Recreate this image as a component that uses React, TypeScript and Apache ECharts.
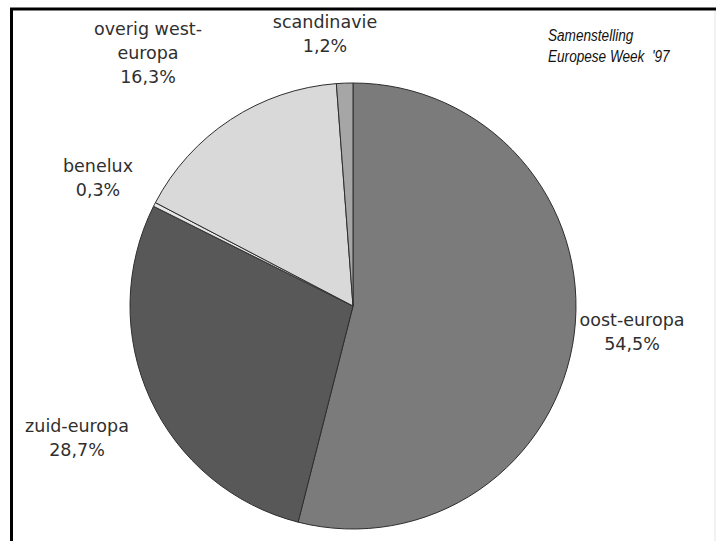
import React, { useEffect, useRef } from "react";
import * as echarts from "echarts";

const categories = ["oost-europa", "zuid-europa", "benelux", "overig west-europa", "scandinavie"];
const labelTexts = ["oost-europa", "zuid-europa", "benelux", "overig west-\neuropa", "scandinavie"];
const values = [54.5, 28.7, 0.3, 16.3, 1.2];
const sliceColors = ["#7b7b7b", "#585858", "#e6e6e6", "#d9d9d9", "#a6a6a6"];
const titleLines = ["Samenstelling", "Europese Week  '97"];

// label anchor positions (layout only)
const labelAnchors: [number, number][] = [
  [632, 332],
  [77, 438],
  [98, 178],
  [148, 53],
  [325, 34],
];

const fmt = (v: number) => v.toFixed(1).replace(".", ",") + "%";

export default function App() {
  const ref = useRef<HTMLDivElement>(null);
  useEffect(() => {
    if (!ref.current) return;
    const chart = echarts.init(ref.current, undefined, { renderer: "svg" });
    chart.setOption({
      animation: false,
      backgroundColor: "#ffffff",
      graphic: [
        { type: "line", shape: { x1: 10, y1: 9, x2: 716, y2: 9 }, style: { stroke: "#000", lineWidth: 3 } },
        { type: "line", shape: { x1: 11.5, y1: 8, x2: 11.5, y2: 541 }, style: { stroke: "#000", lineWidth: 3 } },
        { type: "line", shape: { x1: 715, y1: 11, x2: 715, y2: 541 }, style: { stroke: "#e4e4e4", lineWidth: 1 } },
        {
          type: "text",
          x: 548,
          y: 24,
          scaleX: 0.8,
          style: {
            text: titleLines.join("\n"),
            font: "italic 17px 'Liberation Sans', Arial, sans-serif",
            fill: "#111",
            lineHeight: 21,
          },
        },
      ],
      series: [
        {
          type: "pie",
          center: [353, 306],
          radius: 223,
          startAngle: 90,
          clockwise: true,
          avoidLabelOverlap: false,
          silent: true,
          itemStyle: { borderColor: "#2e2e2e", borderWidth: 1 },
          label: {
            show: true,
            position: "outside",
            formatter: (p: any) => labelTexts[p.dataIndex] + "\n" + fmt(p.value),
            fontFamily: "'DejaVu Sans', sans-serif",
            fontSize: 17.5,
            lineHeight: 24,
            color: "#2f2f2f",
            align: "center",
          },
          labelLine: { show: false },
          labelLayout: (params: any) => {
            const a = labelAnchors[params.dataIndex];
            return { x: a[0], y: a[1], align: "center", verticalAlign: "middle" };
          },
          data: categories.map((c, i) => ({
            name: c,
            value: values[i],
            itemStyle: { color: sliceColors[i] },
          })),
        },
      ],
    });
    return () => chart.dispose();
  }, []);
  return (
    <div
      ref={ref}
      style={{ position: "fixed", left: 0, top: 0, width: 716, height: 541 }}
    />
  );
}
